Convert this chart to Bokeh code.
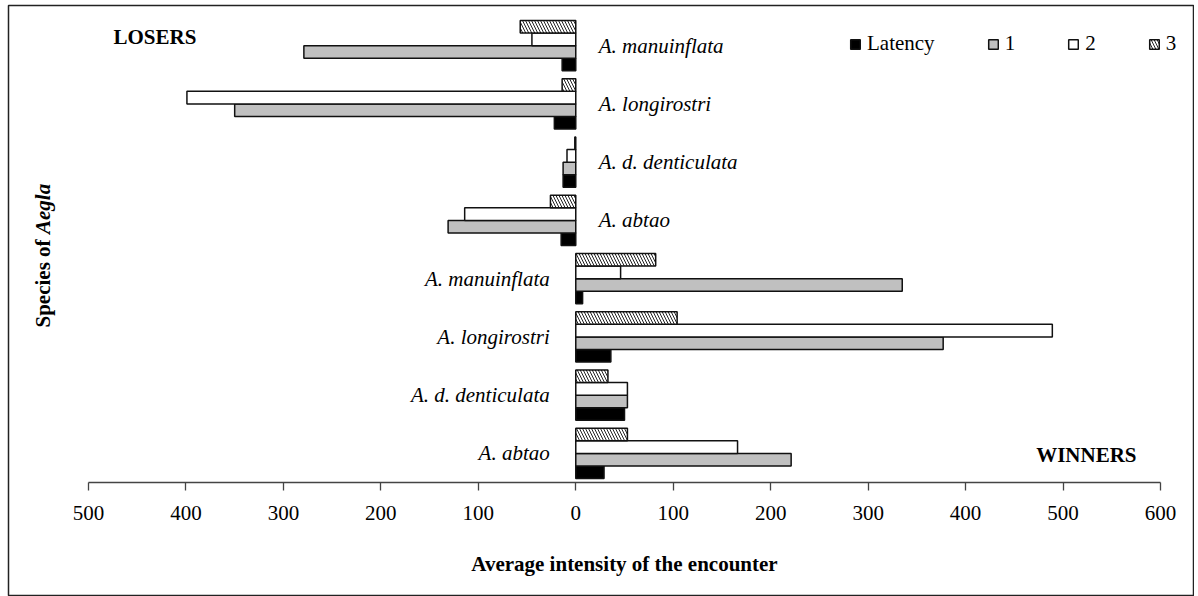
from math import pi
from bokeh.plotting import figure
from bokeh.models import (Range1d, FixedTicker, Label, Legend, LegendItem,
                          ColumnDataSource)
from bokeh.core.properties import value
from bokeh.embed import file_html
from bokeh.resources import INLINE

# ---- data (order within each group: bottom -> top) ----
species = ["A. abtao", "A. d. denticulata", "A. longirostri", "A. manuinflata"]
series_names = ["Latency", "1", "2", "3"]

# Winners (bars to the right)
latency_w = [29, 50, 36, 7]
r1_w = [221, 53, 377, 335]
r2_w = [166, 53, 489, 46]
r3_w = [53, 33, 104, 82]

# Losers (bars to the left, plotted as magnitudes)
latency_l = [15, 13, 22, 14]
r1_l = [131, 13, 350, 279]
r2_l = [114, 9, 399, 45]
r3_l = [26, 1, 14, 57]

tick_values = [-500, -400, -300, -200, -100, 0, 100, 200, 300, 400, 500, 600]

FONT = "Liberation Serif"
FS = "21px"

# layout geometry (pixels)
W, H = 1194, 596
FL, FT = 8, 5                 # frame left / top (frame = outer border)
AX_L, AX_R = 88, 1160         # pixel positions of -500 and 600
CAT_T, CAT_B = 16, 482        # pixel extent of the 8 category bands (axis at CAT_B)
pxu = (AX_R - AX_L) / 1100.0
cat = (CAT_B - CAT_T) / 8.0
x0 = -500 - (AX_L - FL) / pxu
x1 = 600 + (W - AX_R) / pxu
y0 = -(H - CAT_B) / cat
y1 = 8 + (CAT_T - FT) / cat

p = figure(width=W, height=H,
           x_range=Range1d(x0, x1), y_range=Range1d(y0, y1),
           output_backend="svg", toolbar_location=None,
           y_axis_location=None,
           min_border_left=FL, min_border_right=0,
           min_border_top=FT, min_border_bottom=0)
p.outline_line_color = "#222"
p.outline_line_width = 1.5
p.xgrid.visible = False
p.ygrid.visible = False
p.background_fill_color = "white"
p.border_fill_color = "white"

# ---- bars ----
n = len(species)
slot = 0.863 / 4.0
offsets = [-1.5 * slot, -0.5 * slot, 0.5 * slot, 1.5 * slot]
winners = [latency_w, r1_w, r2_w, r3_w]
losers = [latency_l, r1_l, r2_l, r3_l]
styles = [
    dict(fill_color="black"),
    dict(fill_color="#c0c0c0"),
    dict(fill_color="white"),
    dict(fill_color="white", hatch_pattern="\\", hatch_color="#222",
         hatch_scale=6, hatch_weight=1),
]

renderers = []
for k in range(4):
    ys, lefts, rights = [], [], []
    for i in range(n):
        ys.append(n + i + 0.5 + offsets[k])
        lefts.append(-losers[k][i])
        rights.append(0)
        ys.append(i + 0.5 + offsets[k])
        lefts.append(0)
        rights.append(winners[k][i])
    src = ColumnDataSource(dict(y=ys, left=lefts, right=rights))
    r = p.hbar(y="y", left="left", right="right", height=slot, source=src,
               line_color="#111", line_width=1.5, **styles[k])
    renderers.append(r)

# ---- species labels ----
lab_src_l = ColumnDataSource(dict(x=[0] * n, y=[n + i + 0.5 for i in range(n)], t=species))
lab_src_w = ColumnDataSource(dict(x=[0] * n, y=[i + 0.5 for i in range(n)], t=species))
p.text(x="x", y="y", text="t", source=lab_src_l, x_offset=23,
       text_align="left", text_baseline="middle",
       text_font=value(FONT), text_font_size=FS, text_font_style="italic",
       text_color="black")
p.text(x="x", y="y", text="t", source=lab_src_w, x_offset=-26,
       text_align="right", text_baseline="middle",
       text_font=value(FONT), text_font_size=FS, text_font_style="italic",
       text_color="black")

# ---- group labels ----
p.add_layout(Label(x=105, y=560, x_units="screen", y_units="screen", text="LOSERS",
                   text_font=FONT, text_font_size=FS, text_font_style="bold",
                   text_baseline="middle", text_align="left", text_color="black"))
p.add_layout(Label(x=1128, y=142, x_units="screen", y_units="screen", text="WINNERS",
                   text_font=FONT, text_font_size=FS, text_font_style="bold",
                   text_baseline="middle", text_align="right", text_color="black"))

# ---- y axis title (two parts) ----
p.add_layout(Label(x=34, y=269, x_units="screen", y_units="screen", angle=pi / 2,
                   text="Species of ", text_font=FONT, text_font_size=FS,
                   text_font_style="bold", text_baseline="middle", text_align="left",
                   text_color="black"))
p.add_layout(Label(x=34, y=362.5, x_units="screen", y_units="screen", angle=pi / 2,
                   text="Aegla", text_font=FONT, text_font_size=FS,
                   text_font_style="bold italic", text_baseline="middle", text_align="left",
                   text_color="black"))

# ---- x axis (drawn at category baseline y=0) ----
ax = p.xaxis[0]
ax.fixed_location = 0
ax.bounds = (-500, 600)
ax.ticker = FixedTicker(ticks=tick_values)
ax.major_label_overrides = {t: str(abs(t)) for t in tick_values}
ax.major_tick_out = 8
ax.major_tick_in = 0
ax.minor_tick_out = 0
ax.minor_tick_in = 0
ax.axis_line_color = "#444"
ax.axis_line_width = 1.3
ax.major_tick_line_color = "#444"
ax.major_tick_line_width = 1.3
ax.major_label_text_font = FONT
ax.major_label_text_font_size = FS
ax.major_label_text_color = "black"
ax.major_label_standoff = 15
ax.axis_label = "Average intensity of the encounter"
ax.axis_label_text_font = FONT
ax.axis_label_text_font_size = FS
ax.axis_label_text_font_style = "bold"
ax.axis_label_text_color = "black"
ax.axis_label_standoff = 29

# ---- legend ----
legend = Legend(items=[LegendItem(label=series_names[k], renderers=[renderers[k]]) for k in range(4)],
                orientation="horizontal", location=(841, 540),
                glyph_width=12, glyph_height=12, label_standoff=6, spacing=52,
                padding=0, margin=0, border_line_color=None,
                background_fill_alpha=0, label_text_font=FONT,
                label_text_font_size=FS, label_text_color="black",
                label_width=1, label_height=1)
p.add_layout(legend)

open("out.html", "w").write(file_html(p, INLINE))
